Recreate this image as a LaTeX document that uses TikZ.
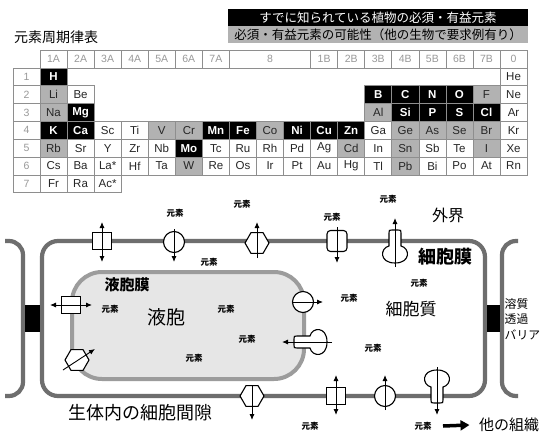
\documentclass[tikz,border=0pt]{standalone}
\usepackage{fontspec}
\setmainfont{Liberation Sans}
\newfontfamily\jp{Noto Sans CJK JP}
\usepackage{tikz}
\usetikzlibrary{positioning,calc,shapes.geometric,arrows.meta}
\definecolor{posgray}{HTML}{B2B2B2}
\definecolor{gridgray}{HTML}{8E8E8E}
\definecolor{wallgray}{HTML}{6E6E6E}
\definecolor{vacgray}{HTML}{9C9C9C}
\definecolor{vacfill}{HTML}{E6E6E6}

\tikzset{
  >={Latex[length=6pt,width=5pt]},
  bottle/.pic={
    \draw[tbody] (-6,0) -- (-6,-13) .. controls (-6,-16) .. (-3,-16) -- (3,-16)
      .. controls (6,-16) .. (6,-13) -- (6,0) .. controls (15,2) and (16,17) .. (0,17)
      .. controls (-16,17) and (-15,2) .. (-6,0) -- cycle;
  }
}

\begin{document}
\begin{tikzpicture}[x=1pt,y=-1pt,
  tcell/.style={draw=gridgray, line width=0.6pt, minimum width=27.06pt, minimum height=17.8pt, inner sep=0pt, font=\fontsize{11.5}{12}\selectfont},
  elk/.style={tcell, fill=black, text=white, font=\bfseries\fontsize{11.5}{12}\selectfont},
  elg/.style={tcell, fill=posgray, text=black!85},
  elw/.style={tcell, fill=white, text=black!85},
  hdr/.style={tcell, text=black!40, font=\fontsize{10.5}{11}\selectfont},
  wall/.style={draw=wallgray, line width=4.2pt},
  vac/.style={draw=vacgray, fill=vacfill, line width=4pt},
  tbody/.style={draw=black, fill=white, line width=1.1pt},
  tsq/.style={tbody, rectangle, minimum width=19pt, minimum height=17pt, inner sep=0pt},
  trsq/.style={tsq, rounded corners=3.5pt, minimum width=20pt, minimum height=21pt},
  tcirc/.style={tbody, circle, minimum size=21pt, inner sep=0pt},
  thex/.style={tbody, regular polygon, regular polygon sides=6, minimum size=24pt, inner sep=0pt},
  flux/.style={black, line width=0.9pt},
  elem/.style={font=\jp\bfseries\fontsize{8.5}{9}\selectfont},
  jptext/.style={font=\jp\fontsize{#1}{#1}\selectfont},
]
\useasboundingbox (0,0) rectangle (540,433);
\fill[white] (0,0) rectangle (540,433);

% periodic table
\node[jptext=14] (ttl) at (56,37) {元素周期律表};
\node[fill=black, text=white, minimum width=300pt, minimum height=17pt, inner sep=0pt, jptext=12.5] (keyess) at (378,17.5) {すでに知られている植物の必須・有益元素};
\node[fill=posgray, text=black, minimum width=300pt, minimum height=17pt, inner sep=0pt, jptext=12.5] (keypos) at (378,35) {必須・有益元素の可能性（他の生物で要求例有り）};

\foreach \c/\t in {1/1A,2/2A,3/3A,4/4A,5/5A,6/6A,7/7A,11/1B,12/2B,13/3B,14/4B,15/5B,16/6B,17/7B,18/0} {
  \pgfmathsetmacro{\x}{40+(\c-0.5)*27.06}
  \node[hdr] (hd-\c) at (\x,59.1) {\t};
}
\node[hdr, minimum width=81.18pt] (hd-8) at (270,59.1) {8};
\foreach \r in {1,...,7} {
  \pgfmathsetmacro{\y}{68+(\r-0.5)*17.8}
  \node[hdr] (rn-\r) at (26.5,\y) {\r};
}

\foreach \r/\c/\s/\k in {%
  1/1/H/k, 1/18/He/w,
  2/1/Li/g, 2/2/Be/w, 2/13/B/k, 2/14/C/k, 2/15/N/k, 2/16/O/k, 2/17/F/g, 2/18/Ne/w,
  3/1/Na/g, 3/2/Mg/k, 3/13/Al/g, 3/14/Si/k, 3/15/P/k, 3/16/S/k, 3/17/Cl/k, 3/18/Ar/w,
  4/1/K/k, 4/2/Ca/k, 4/3/Sc/w, 4/4/Ti/w, 4/5/V/g, 4/6/Cr/g, 4/7/Mn/k, 4/8/Fe/k, 4/9/Co/g,
  4/10/Ni/k, 4/11/Cu/k, 4/12/Zn/k, 4/13/Ga/w, 4/14/Ge/g, 4/15/As/g, 4/16/Se/g, 4/17/Br/g, 4/18/Kr/w,
  5/1/Rb/g, 5/2/Sr/w, 5/3/Y/w, 5/4/Zr/w, 5/5/Nb/w, 5/6/Mo/k, 5/7/Tc/w, 5/8/Ru/w, 5/9/Rh/w,
  5/10/Pd/w, 5/11/Ag/w, 5/12/Cd/g, 5/13/In/w, 5/14/Sn/g, 5/15/Sb/w, 5/16/Te/w, 5/17/I/g, 5/18/Xe/w,
  6/1/Cs/w, 6/2/Ba/w, 6/3/La*/w, 6/4/Hf/w, 6/5/Ta/w, 6/6/W/g, 6/7/Re/w, 6/8/Os/w, 6/9/Ir/w,
  6/10/Pt/w, 6/11/Au/w, 6/12/Hg/w, 6/13/Tl/w, 6/14/Pb/g, 6/15/Bi/w, 6/16/Po/w, 6/17/At/w, 6/18/Rn/w,
  7/1/Fr/w, 7/2/Ra/w, 7/3/Ac*/w%
} {
  \pgfmathsetmacro{\x}{40+(\c-0.5)*27.06}
  \pgfmathsetmacro{\y}{68+(\r-0.5)*17.8}
  \node[el\k] (el-\r-\c) at (\x,\y) {\s};
}

% cell walls and vacuole
\draw[wall, rounded corners=14pt] (5,241) -- (23,241) -- (23,396) -- (5,396);
\draw[wall, rounded corners=14pt] (518,241) -- (502,241) -- (502,396) -- (518,396);
\draw[wall, rounded corners=16pt] (42,241) rectangle (485,396);
\fill[black] (25,305) rectangle (40,332);
\fill[black] (487,305) rectangle (500,332);
\draw[vac, rounded corners=30pt] (72,272) rectangle (304,379);

% transporters on the plasma membrane
\node[tsq]   (pm-sq1) at (102,241) {};
\node[tcirc] (pm-ci1) at (174,242) {};
\node[thex]  (pm-hx1) at (257,243) {};
\node[trsq]  (pm-rs1) at (337,241) {};
\coordinate  (pm-bt1) at (395,246);
\pic at (pm-bt1) {bottle};
\draw[flux,<->] ($(pm-sq1)+(0,-19)$) -- ($(pm-sq1)+(0,21)$);
\draw[flux,->] ($(pm-ci1)+(0,-13)$) -- ($(pm-ci1)+(0,20)$);
\draw[flux,->] ($(pm-hx1)+(0,15)$) -- ($(pm-hx1)+(0,-21)$);
\draw[flux,->] ($(pm-rs1)+(0,-14)$) -- ($(pm-rs1)+(0,22)$);
\draw[flux,->] ($(pm-bt1)+(0,21)$) -- ($(pm-bt1)+(0,-28)$);

\node[thex]  (pm-hx2) at (252,396) {};
\node[tsq]   (pm-sq2) at (336,396) {};
\node[tcirc] (pm-ci2) at (385,396) {};
\coordinate  (pm-bt2) at (437,387);
\pic[rotate=180] at (pm-bt2) {bottle};
\draw[flux,->] ($(pm-hx2)+(0,-11)$) -- ($(pm-hx2)+(0,24)$);
\draw[flux,<->] ($(pm-sq2)+(0,-21)$) -- ($(pm-sq2)+(0,19)$);
\draw[flux,->] ($(pm-ci2)+(0,14)$) -- ($(pm-ci2)+(0,-21)$);
\draw[flux,->] ($(pm-bt2)+(0,-20)$) -- ($(pm-bt2)+(0,28)$);

% transporters on the tonoplast
\node[tsq]   (vm-sq) at (71,305) {};
\node[thex]  (vm-hx) at (77,360) {};
\node[tcirc] (vm-ci) at (303,302) {};
\coordinate  (vm-bt) at (310,342);
\pic[rotate=90] at (vm-bt) {bottle};
\draw[flux,<->] ($(vm-sq)+(-21,0)$) -- ($(vm-sq)+(21,0)$);
\draw[flux,->] ($(vm-hx)+(-14,10)$) -- ($(vm-hx)+(18,-11)$);
\draw[flux,->] ($(vm-ci)+(-10,0)$) -- ($(vm-ci)+(20,0)$);
\draw[flux,->] ($(vm-bt)+(22,0)$) -- ($(vm-bt)+(-28,0)$);

% labels
\node[font=\jp\bfseries\fontsize{15}{15}\selectfont] (tono) at (127,285) {液胞膜};
\node[jptext=19] (vacu) at (166,317) {液胞};
\node[jptext=17] (cyto) at (411,309) {細胞質};
\node[font=\jp\bfseries\fontsize{18}{18}\selectfont] (plmb) at (445,257) {細胞膜};
\node[jptext=16] (outs) at (448,215) {外界};
\node[font=\jp\fontsize{11.8}{15.5}\selectfont, align=left, anchor=west, inner sep=0pt] (barr) at (504.5,319) {溶質\\透過\\バリア};
\node[jptext=18] (apop) at (140,413) {生体内の細胞間隙};
\node[jptext=15] (oth) at (509,425) {他の組織};
\coordinate (arrbase) at (443,426);
\draw[line width=3.5pt, -{Triangle[length=9pt,width=10pt]}] (arrbase) -- ([xshift=-6pt]oth.west);

\foreach \x/\y [count=\i] in {175/213, 242/204, 332/217, 388/199, 209/262, 419/283, 110/309,
  226/309, 349/298, 247/339, 194/358, 373/348, 310/426, 423/426} {
  \node[elem] (elm\i) at (\x,\y) {元素};
}
\end{tikzpicture}
\end{document}
